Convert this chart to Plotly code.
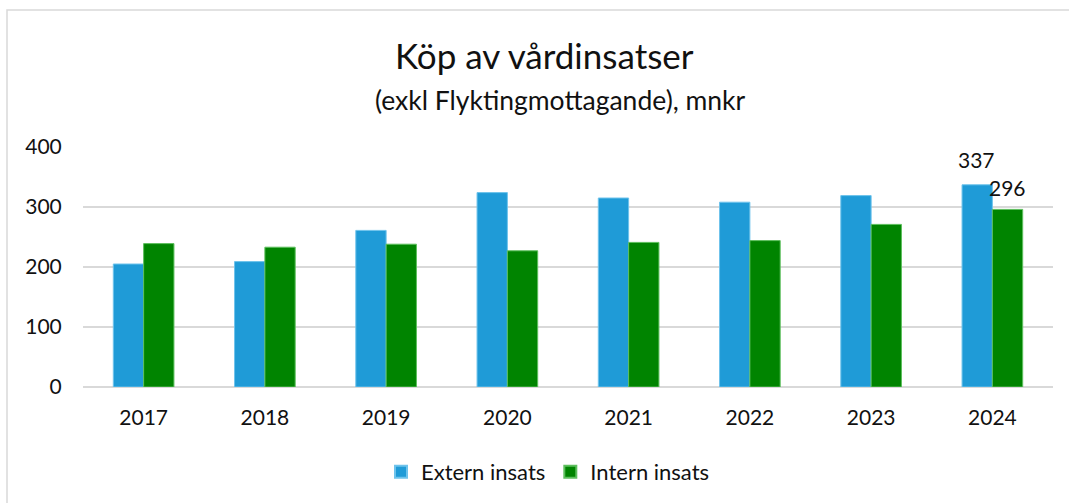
import plotly.graph_objects as go

years = ["2017", "2018", "2019", "2020", "2021", "2022", "2023", "2024"]
extern = [205, 209, 261, 324, 315, 308, 319, 337]
intern = [239, 233, 238, 227, 241, 244, 271, 296]
series_names = ["Extern insats", "Intern insats"]
y_ticks = [0, 100, 200, 300, 400]

W, H = 1069, 503
L, R, T, B = 83, 16, 147, 116
pw, ph = W - L - R, H - T - B

def px(xp):
    return (xp - L) / pw

def py(yp):
    return (H - B - yp) / ph

FONT = "Lato"
fig = go.Figure()
fig.add_trace(go.Bar(x=years, y=extern, name=series_names[0],
                     marker=dict(color="#1F9BD7", line=dict(color="#6EC3EC", width=1))))
fig.add_trace(go.Bar(x=years, y=intern, name=series_names[1],
                     marker=dict(color="#008400", line=dict(color="#5DBF5D", width=1))))

# data labels for the last year (category index of the last year)
last = len(years) - 1
fig.add_annotation(x=last, y=extern[last], text=str(extern[last]), showarrow=False,
                   xshift=-16, yshift=25, yanchor="middle", font=dict(size=21, color="#111"))
fig.add_annotation(x=last, y=intern[last], text=str(intern[last]), showarrow=False,
                   xshift=15, yshift=22, yanchor="middle", font=dict(size=21, color="#111"))

fig.add_annotation(xref="paper", yref="paper", x=px(544), y=py(55), text="Köp av vårdinsatser",
                   showarrow=False, yanchor="middle", font=dict(size=35, color="#111"))
fig.add_annotation(xref="paper", yref="paper", x=px(560), y=py(100),
                   text="(exkl Flyktingmottagande), mnkr",
                   showarrow=False, yanchor="middle", font=dict(size=26.5, color="#111"))

fig.add_shape(type="rect", xref="paper", yref="paper", x0=px(7), x1=px(1090), y0=py(520), y1=py(10),
              line=dict(color="#D9D9D9", width=1.5), layer="below")

fig.update_layout(
    width=W, height=H,
    margin=dict(l=L, r=R, t=T, b=B, autoexpand=False),
    paper_bgcolor="white", plot_bgcolor="white",
    font=dict(family=FONT, size=21, color="#111"),
    barmode="group", bargap=0.5, bargroupgap=0,
    showlegend=True,
    legend=dict(orientation="h", x=px(548), xanchor="center", y=py(472), yanchor="middle",
                font=dict(size=22), itemsizing="constant", traceorder="normal"),
    xaxis=dict(type="category", categoryorder="array", categoryarray=years,
               range=[-0.5, len(years) - 0.5], showgrid=False,
               ticks="outside", ticklen=12, tickcolor="rgba(0,0,0,0)", showline=False),
    yaxis=dict(range=[0, 400], tickvals=y_ticks, showgrid=True, gridcolor="#D9D9D9", gridwidth=1.5,
               zeroline=True, zerolinecolor="#D9D9D9", zerolinewidth=1.5,
               ticks="outside", ticklen=16, tickcolor="rgba(0,0,0,0)", showline=False),
)

fig.write_html("out.html", config={"displayModeBar": False},
               post_script="document.body.style.margin='0';")
